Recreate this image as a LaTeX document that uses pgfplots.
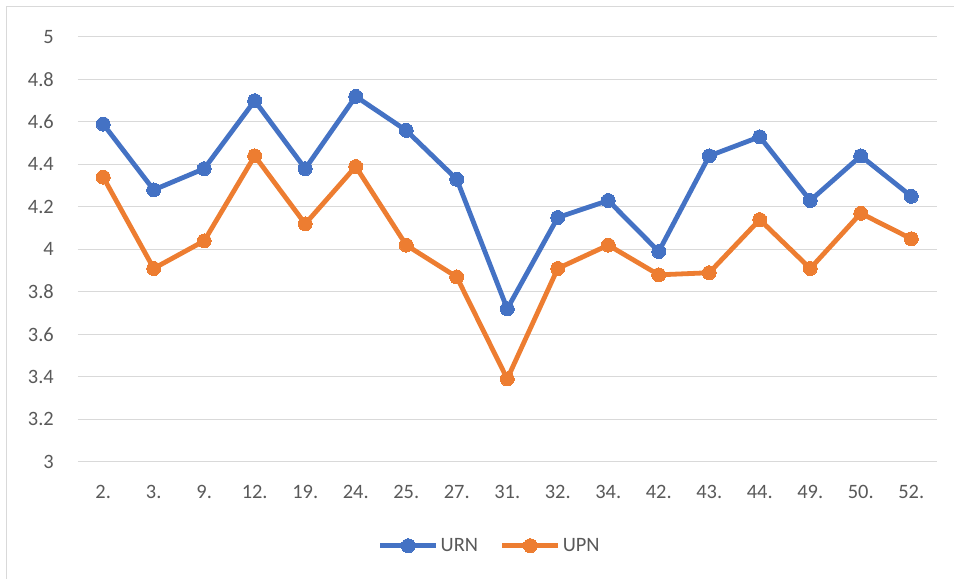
\documentclass[border=0pt]{standalone}
\usepackage{pgfplots}
\pgfplotsset{compat=1.18}
\usepackage{fontspec}
\setmainfont{Carlito}
\definecolor{cblue}{HTML}{4472C4}
\definecolor{corange}{HTML}{ED7D31}
\definecolor{cgrid}{HTML}{D9D9D9}
\definecolor{ctext}{HTML}{595959}
\begin{document}
\begin{tikzpicture}
\path (0,0) rectangle (954bp,579bp);
\draw[cgrid, line width=1bp] (7bp,0bp) -- (7bp,572bp) -- (954bp,572bp);
\begin{axis}[
  at={(78bp,117bp)}, anchor=south west,
  scale only axis, width=859bp, height=425bp,
  xmin=-0.5, xmax=16.5, ymin=3, ymax=5,
  xtick={0,...,16},
  xticklabels={2.,3.,9.,12.,19.,24.,25.,27.,31.,32.,34.,42.,43.,44.,49.,50.,52.},
  ytick={3,3.2,...,5.01},
  /pgf/number format/assume math mode=true,
  ymajorgrids, grid style={cgrid, line width=1bp},
  axis x line*=bottom, axis y line*=left,
  x axis line style={cgrid, line width=1bp, -},
  y axis line style={draw=none},
  major tick length=0pt,
  tick label style={font=\fontsize{20.5}{24}\selectfont, text=ctext, inner sep=0pt},
  xticklabel style={anchor=north, yshift=-23bp},
  yticklabel style={anchor=east, xshift=-24bp, /pgf/number format/.cd, fixed, precision=1},
  legend style={at={(412bp,-84bp)}, anchor=center, draw=none, legend columns=2,
    font=\fontsize{20.5}{24}\selectfont, text=ctext, inner sep=0pt,
    /tikz/every odd column/.append style={column sep=0bp},
    /tikz/every even column/.append style={column sep=20bp}},
  legend image code/.code={\draw[#1, mark=none] (0bp,0bp) -- (56bp,0bp); \draw[#1] plot coordinates {(28bp,0bp)};},
]
\addplot[color=cblue, line width=4.8bp, mark=*, mark size=7bp, mark options={fill=cblue, draw=cblue, line width=0pt}] coordinates {
(0,4.59) (1,4.28) (2,4.38) (3,4.70) (4,4.38) (5,4.72) (6,4.56) (7,4.33) (8,3.72)
(9,4.15) (10,4.23) (11,3.99) (12,4.44) (13,4.53) (14,4.23) (15,4.44) (16,4.25)};
\addlegendentry{URN}
\addplot[color=corange, line width=4.8bp, mark=*, mark size=7bp, mark options={fill=corange, draw=corange, line width=0pt}] coordinates {
(0,4.34) (1,3.91) (2,4.04) (3,4.44) (4,4.12) (5,4.39) (6,4.02) (7,3.87) (8,3.39)
(9,3.91) (10,4.02) (11,3.88) (12,3.89) (13,4.14) (14,3.91) (15,4.17) (16,4.05)};
\addlegendentry{UPN}
\end{axis}
\end{tikzpicture}
\end{document}
